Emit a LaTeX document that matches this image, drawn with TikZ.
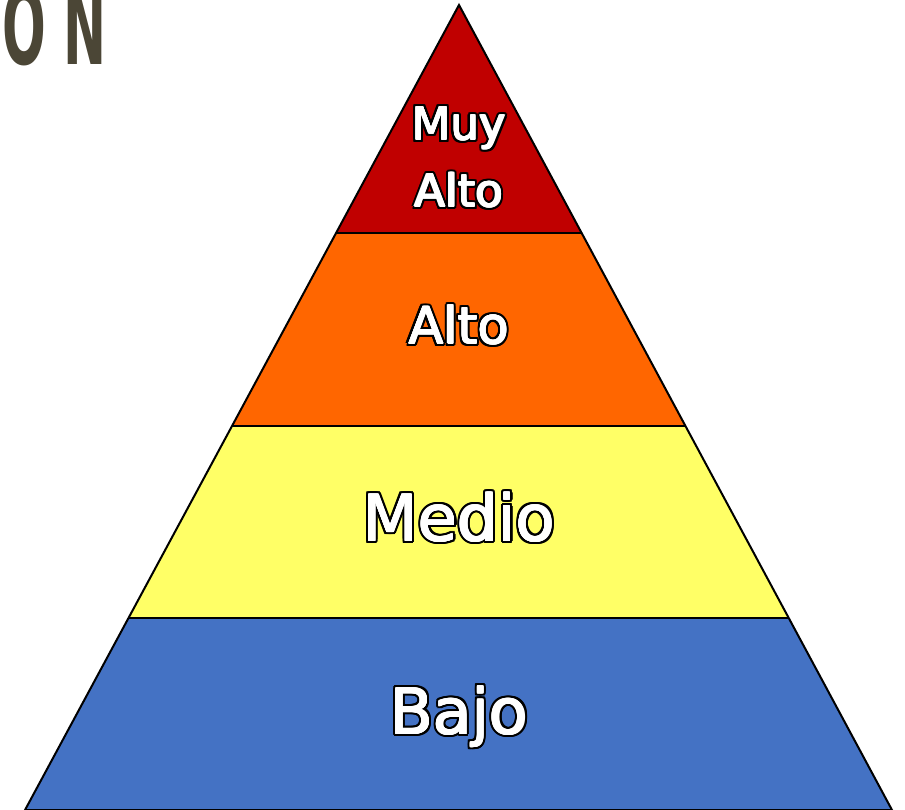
\documentclass[tikz,border=0pt]{standalone}
\usepackage{fontspec}
\setmainfont{DejaVu Sans}
\newfontfamily\onfont{DejaVu Sans}
\usetikzlibrary{calc}
\definecolor{cRed}{HTML}{C00000}
\definecolor{cOrange}{HTML}{FF6600}
\definecolor{cYellow}{HTML}{FFFF66}
\definecolor{cBlue}{HTML}{4472C4}
\definecolor{cTitle}{HTML}{4B4636}
\tikzset{
  band/.style={draw=black, line width=2pt, line join=miter},
  lbl/.style={anchor=base, inner sep=0pt},
  ttl/.style={anchor=base west, inner sep=0pt, text=cTitle, xscale=0.49},
}
\newcommand\outtxt[4]{%
  \foreach \a in {0,22.5,...,337.5}{%
    \node[lbl, text=black] at ($(#2)+(\a:2.9)$) {\fontsize{#3}{#3}\selectfont #4};
    \node[lbl, text=black] at ($(#2)+(\a:1.8)$) {\fontsize{#3}{#3}\selectfont #4};}%
  \foreach \a in {0,45,...,315}{%
    \node[lbl, text=white] at ($(#2)+(\a:0.8)$) {\fontsize{#3}{#3}\selectfont #4};}%
  \node[lbl, text=white] (#1) at (#2) {\fontsize{#3}{#3}\selectfont #4};}
\begin{document}
\begin{tikzpicture}[x=1pt,y=-1pt]
\useasboundingbox (0,0) rectangle (905,810);
\coordinate (apex) at (459,5);
\coordinate (bl) at (25,810);
\coordinate (br) at (892,810);
\coordinate (l1) at ($(apex)!0.2836!(bl)$);
\coordinate (r1) at ($(apex)!0.2836!(br)$);
\coordinate (l2) at ($(apex)!0.5224!(bl)$);
\coordinate (r2) at ($(apex)!0.5224!(br)$);
\coordinate (l3) at ($(apex)!0.7612!(bl)$);
\coordinate (r3) at ($(apex)!0.7612!(br)$);
\fill[cRed] (apex) -- (r1) -- (l1) -- cycle;
\fill[cOrange] (l1) -- (r1) -- (r2) -- (l2) -- cycle;
\fill[cYellow] (l2) -- (r2) -- (r3) -- (l3) -- cycle;
\fill[cBlue] (l3) -- (r3) -- (br) -- (bl) -- cycle;
\draw[band] (l1) -- (r1) (l2) -- (r2) (l3) -- (r3);
\draw[band] (bl) -- (apex) -- (br) -- cycle;
\coordinate (p1) at (459,140);
\coordinate (p2) at (459,207);
\coordinate (p3) at (459,344);
\coordinate (p4) at (459,541);
\coordinate (p5) at (459,734);
\outtxt{muy}{p1}{45}{Muy}
\outtxt{altoA}{p2}{45}{Alto}
\outtxt{altoB}{p3}{51}{Alto}
\outtxt{medio}{p4}{64}{Medio}
\outtxt{bajo}{p5}{63}{Bajo}
\node[ttl] (on1) at (2,65) {\onfont\bfseries\fontsize{105}{105}\selectfont O};
\node[ttl] (on2) at (63,65) {\onfont\bfseries\fontsize{105}{105}\selectfont N};
\end{tikzpicture}
\end{document}
